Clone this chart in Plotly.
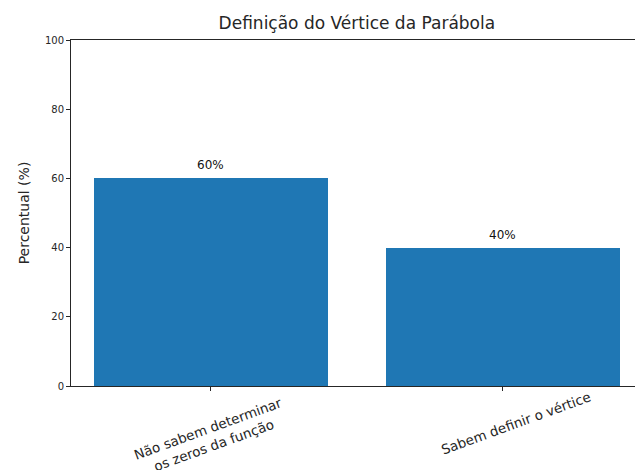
import plotly.graph_objects as go

# Survey results on defining the parabola's vertex
categorias = ["Não sabem determinar<br>os zeros da função", "Sabem definir o vértice"]
percentuais = [60, 40]
y_ticks = [0, 20, 40, 60, 80, 100]

FONT = "DejaVu Sans"
BAR_COLOR = "#1f77b4"
INK = "#262626"

x_pos = list(range(len(categorias)))

fig = go.Figure()
fig.add_trace(go.Bar(
    x=x_pos,
    y=percentuais,
    width=0.8,
    marker=dict(color=BAR_COLOR, line=dict(width=0)),
    hoverinfo="skip",
))

# Value labels just above each bar
for xi, v in zip(x_pos, percentuais):
    fig.add_annotation(
        x=xi, y=v, xref="x", yref="y",
        text=f"{v}%", showarrow=False,
        yanchor="bottom", yshift=4,
        font=dict(family=FONT, size=12, color="#111111"),
    )

# Rotated category labels below the axis
label_shift = [(0, -51), (13, -37)]
for xi, lab, (dx, dy) in zip(x_pos, categorias, label_shift):
    fig.add_annotation(
        x=xi, y=0, xref="x", yref="y",
        text=lab, showarrow=False, textangle=-20,
        xshift=dx, yshift=dy,
        font=dict(family=FONT, size=13.5, color=INK),
        align="center",
    )

fig.update_layout(
    width=635, height=470,
    margin=dict(l=71, r=0, t=40, b=84),
    paper_bgcolor="white", plot_bgcolor="white",
    showlegend=False,
    bargap=0,
    title=dict(
        text="Definição do Vértice da Parábola",
        x=0.562, xanchor="center", y=0.952, yanchor="middle",
        font=dict(family=FONT, size=17, color=INK),
    ),
)
fig.update_xaxes(
    range=[-0.479, 1.452],
    tickvals=x_pos,
    showticklabels=False,
    ticks="outside", ticklen=4, tickcolor=INK, tickwidth=1,
    showline=True, linecolor=INK, linewidth=1, mirror=True,
    showgrid=False, zeroline=False, fixedrange=True,
)
fig.update_yaxes(
    range=[0, 100],
    tickvals=y_ticks,
    ticks="outside", ticklen=4, tickcolor=INK, tickwidth=1,
    tickfont=dict(family=FONT, size=10, color=INK),
    showline=True, linecolor=INK, linewidth=1, mirror=False,
    showgrid=False, zeroline=False,
    title=dict(text="Percentual (%)", font=dict(family=FONT, size=14, color=INK), standoff=12),
)

fig.write_html("out.html")
